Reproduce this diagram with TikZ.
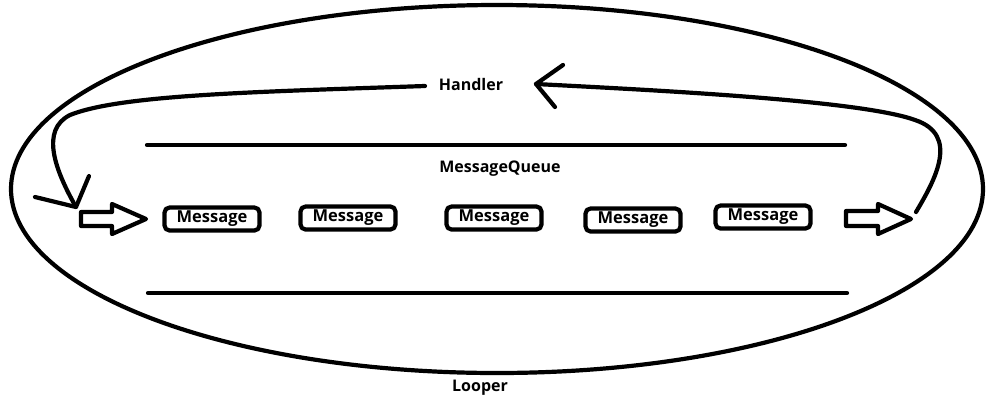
\documentclass[tikz,border=0pt]{standalone}
\usepackage{fontspec}
\setmainfont{Open Sans}
\begin{document}
\begin{tikzpicture}[x=1pt,y=-1pt,line cap=round,line join=round,
  thick line/.style={line width=4.2pt},
  lbl/.style={font=\fontsize{16}{18}\selectfont\bfseries, inner sep=0pt},
  msg/.style={draw, line width=4.2pt, rounded corners=5pt, minimum width=95pt, minimum height=23pt, inner sep=0pt, font=\fontsize{16.5}{18}\selectfont\bfseries},
  hollow/.style={draw, line width=4.2pt, fill=white}]
\useasboundingbox (0,0) rectangle (995,408);
% Looper ellipse
\draw[thick line] (497,189) ellipse [x radius=486, y radius=184];
\node[lbl] (looper) at (480,388) {Looper};
% queue lines
\coordinate (tl) at (147,145); \coordinate (tr) at (845,145);
\coordinate (bl) at (148,293); \coordinate (br) at (847,293);
\draw[thick line] (tl) -- (tr);
\draw[thick line] (bl) -- (br);
\node[lbl] (mq) at (500,169) {MessageQueue};
\node[lbl] (handler) at (471,84) {Handler};
% messages
\node[msg] (m1) at (212,219) {Message};
\node[msg] (m2) at (348,218) {Message};
\node[msg] (m3) at (494,218) {Message};
\node[msg] (m4) at (633,220) {Message};
\node[msg] (m5) at (763,217) {Message};
% hollow arrows
\draw[hollow] (81,212) -- (112,212) -- (112,204) -- (146,219) -- (112,234) -- (112,226) -- (81,226) -- cycle;
\draw[hollow] (846,211) -- (878,211) -- (878,204) -- (911,219) -- (878,234) -- (878,226) -- (846,226) -- cycle;
% left curve from Handler
\coordinate (lstart) at (425,86);
\coordinate (ltip) at (76,207);
\draw[thick line] (lstart) .. controls (250,92) and (120,95) .. (70,115)
  .. controls (40,130) and (55,170) .. (ltip);
\draw[thick line] (35,197) -- (ltip) -- (89,176);
% right curve to Handler
\coordinate (rstart) at (916,212);
\coordinate (rtip) at (536,84);
\draw[thick line] (rstart) .. controls (935,180) and (960,135) .. (915,120)
  .. controls (860,100) and (650,90) .. (rtip);
\draw[thick line] (563,65) -- (rtip) -- (555,107);
\end{tikzpicture}
\end{document}
